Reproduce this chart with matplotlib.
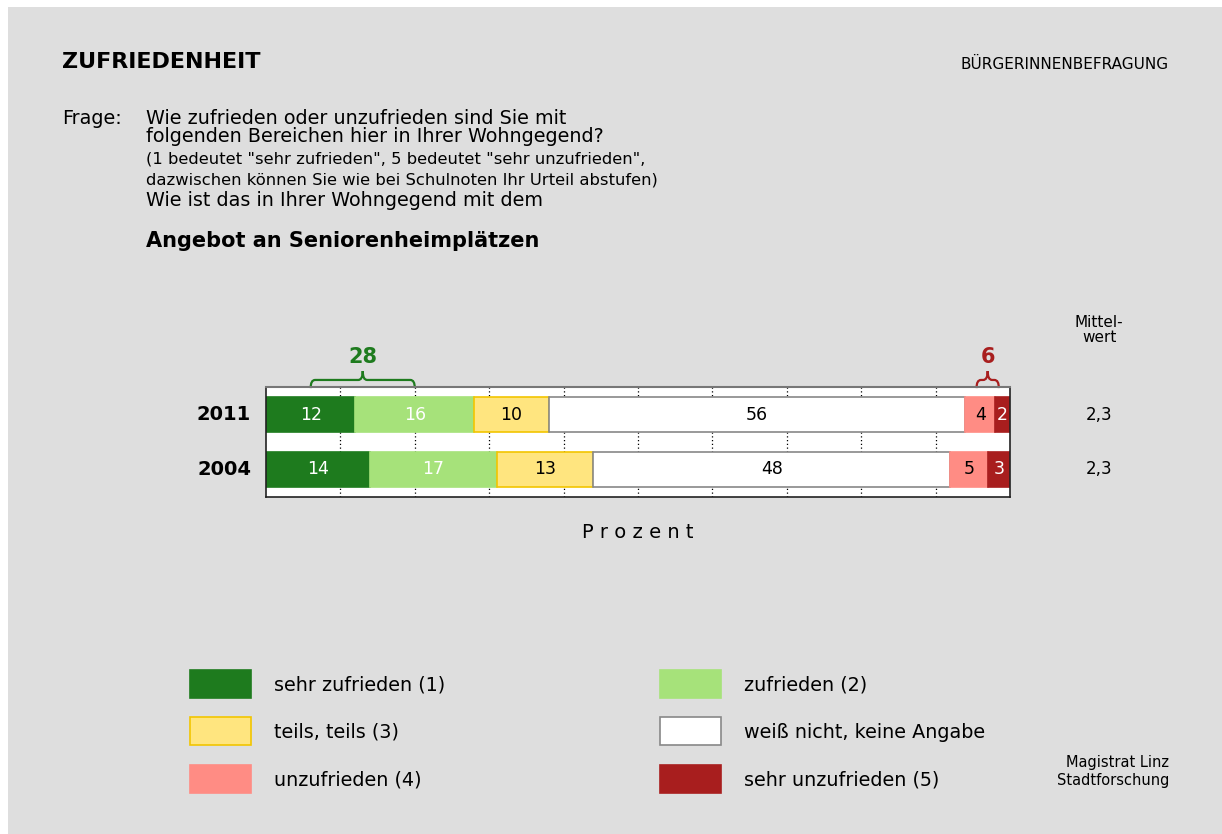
import matplotlib
matplotlib.use('Agg')
import matplotlib.pyplot as plt
from matplotlib.patches import Rectangle, PathPatch
from matplotlib.path import Path
import matplotlib.transforms as mtransforms

plt.rcParams['font.family'] = ['DejaVu Sans']

# Daten
years = ['2011', '2004']
categories = ['sehr zufrieden (1)', 'zufrieden (2)', 'teils, teils (3)',
              'weiß nicht, keine Angabe', 'unzufrieden (4)', 'sehr unzufrieden (5)']
values_2011 = [12, 16, 10, 56, 4, 2]
values_2004 = [14, 17, 13, 48, 5, 3]
means = ['2,3', '2,3']
bracket_good = 28
bracket_bad = 6

colors = ['#1e7b1e', '#a6e27a', '#ffe57f', '#ffffff', '#ff8c84', '#a81e1e']
edges = ['#1e7b1e', '#a6e27a', '#f2c500', '#888888', '#ff8c84', '#a81e1e']
txt_colors = ['white', 'white', 'black', 'black', 'black', 'white']

W, H = 1222, 834
fig = plt.figure(figsize=(W / 100, H / 100), dpi=100)
fig.patch.set_facecolor('white')


def px(x, y):
    # Pixelposition -> Figurkoordinaten
    return x / W, 1 - y / H


# grauer Hintergrund
fig.patches.append(Rectangle(px(8, H), (W - 8) / W, (H - 7) / H, transform=fig.transFigure,
                             facecolor='#dedede', edgecolor='none', zorder=-5))

# Kopf
fig.text(*px(62, 62), 'ZUFRIEDENHEIT', fontsize=16, fontweight='bold', va='center')
fig.text(*px(1169, 64), 'BÜRGERINNENBEFRAGUNG', fontsize=11, va='center', ha='right')
fig.text(*px(62, 118), 'Frage:', fontsize=13.8, va='center')
fig.text(*px(146, 118), 'Wie zufrieden oder unzufrieden sind Sie mit', fontsize=13.8, va='center')
fig.text(*px(146, 136), 'folgenden Bereichen hier in Ihrer Wohngegend?', fontsize=13.8, va='center')
fig.text(*px(146, 159), '(1 bedeutet "sehr zufrieden", 5 bedeutet "sehr unzufrieden",', fontsize=11.8, va='center')
fig.text(*px(146, 180), 'dazwischen können Sie wie bei Schulnoten Ihr Urteil abstufen)', fontsize=11.8, va='center')
fig.text(*px(146, 201), 'Wie ist das in Ihrer Wohngegend mit dem', fontsize=13.8, va='center')
fig.text(*px(146, 241), 'Angebot an Seniorenheimplätzen', fontsize=15, fontweight='bold', va='center')

# Diagramm
ax = fig.add_axes([266 / W, 1 - 497 / H, (1010 - 266) / W, (497 - 387) / H])
ax.set_facecolor('white')
ax.set_xlim(0, 100)
ax.set_ylim(-0.5, 1.5)
ax.set_axisbelow(True)
ax.set_xticks(range(10, 100, 10))
ax.xaxis.grid(True, linestyle=(0, (1, 2)), color='black', linewidth=0.9)
ax.tick_params(length=0, labelbottom=False, labelleft=False)
ax.set_yticks([])
for s in ['left', 'bottom', 'right']:
    ax.spines[s].set_color('#222222')
    ax.spines[s].set_linewidth(1.2)
ax.spines['top'].set_color('#777777')
ax.spines['top'].set_linewidth(1.5)

rows = [values_2011, values_2004]
ypos = [1, 0]
for vals, y in zip(rows, ypos):
    left = 0
    for i, v in enumerate(vals):
        ax.barh(y, v, left=left, height=0.64, color=colors[i], edgecolor=edges[i], linewidth=1.2)
        ax.text(left + v / 2, y, str(v), ha='center', va='center', fontsize=12.5, color=txt_colors[i])
        left += v

for year, y, m in zip(years, ypos, means):
    ax.text(-2, y, year, ha='right', va='center', fontsize=14, fontweight='bold')
    ax.text(112, y, m, ha='center', va='center', fontsize=12)
ax.text(112, 1.5 + 57 / 55, 'Mittel-\nwert', ha='center', va='center', fontsize=11, linespacing=0.95)
ax.text(50, -0.5 - 36 / 55, 'P r o z e n t', ha='center', va='center', fontsize=14)

# Klammern
trans = mtransforms.blended_transform_factory(ax.transData, ax.transAxes)


def brace(xc, width, color):
    x0, x1 = xc - width / 2, xc + width / 2
    r = 0.6
    yb, yh, yt = 0.99, 1.064, 1.145
    verts = [(x0, yb), (x0, yh), (x0 + r, yh), (xc - r, yh), (xc, yh), (xc, yt),
             (xc, yh), (xc + r, yh), (x1 - r, yh), (x1, yh), (x1, yb)]
    codes = [Path.MOVETO, Path.CURVE3, Path.CURVE3, Path.LINETO, Path.CURVE3, Path.CURVE3,
             Path.CURVE3, Path.CURVE3, Path.LINETO, Path.CURVE3, Path.CURVE3]
    ax.add_patch(PathPatch(Path(verts, codes), transform=trans, facecolor='none',
                           edgecolor=color, linewidth=1.6, clip_on=False))


brace(bracket_good / 2 - 1, bracket_good / 2, '#1e7b1e')
ax.text(bracket_good / 2 - 1, 1.27, str(bracket_good), transform=trans, ha='center', va='center',
        fontsize=15, fontweight='bold', color='#1e7b1e')
brace(100 - bracket_bad / 2, bracket_bad / 2, '#a81e1e')
ax.text(100 - bracket_bad / 2, 1.27, str(bracket_bad), transform=trans, ha='center', va='center',
        fontsize=15, fontweight='bold', color='#a81e1e')

# Legende
leg_x = [190, 660]
leg_y = [684, 731, 779]
order = [0, 2, 4, 1, 3, 5]
for k, i in enumerate(order):
    col, row = k // 3, k % 3
    x, y = leg_x[col], leg_y[row]
    fig.patches.append(Rectangle(px(x, y + 14), 61 / W, 28 / H, transform=fig.transFigure,
                                 facecolor=colors[i], edgecolor=edges[i], linewidth=1.2))
    fig.text(*px(x + 84, y + 1), categories[i], fontsize=13.8, va='center')

fig.text(*px(1169, 762), 'Magistrat Linz', fontsize=10.5, va='center', ha='right')
fig.text(*px(1169, 781), 'Stadtforschung', fontsize=10.5, va='center', ha='right')

fig.savefig('out.png', dpi=100)
